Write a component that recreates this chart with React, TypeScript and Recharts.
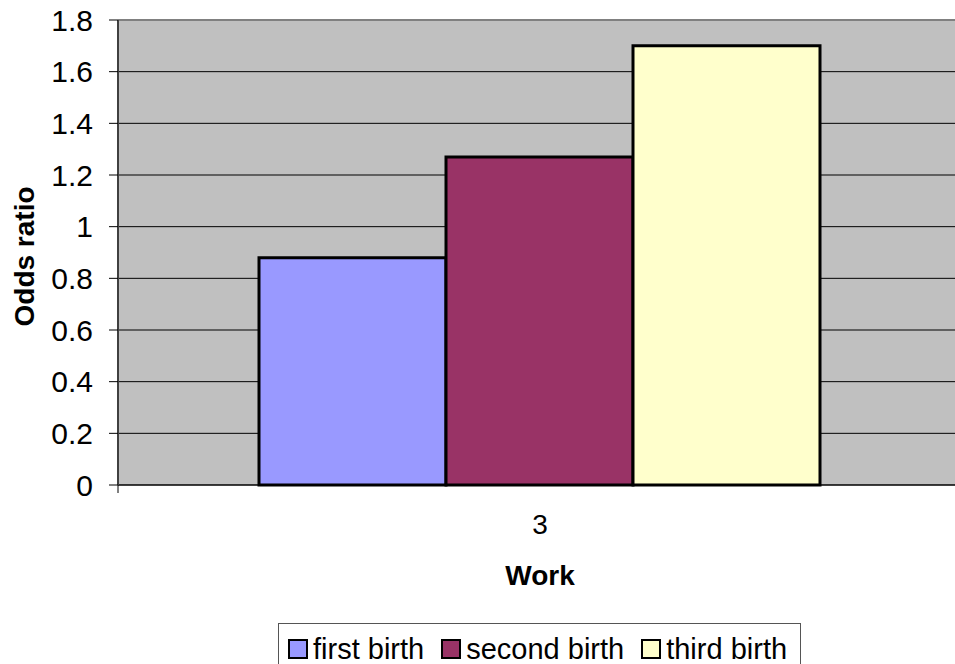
import React from 'react';
import { BarChart, Bar, XAxis, YAxis, CartesianGrid, ReferenceLine } from 'recharts';

const categories = ['3'];
const seriesNames = ['first birth', 'second birth', 'third birth'];
const seriesKeys = ['first', 'second', 'third'];
const seriesColors = ['#9999FF', '#993366', '#FFFFCC'];
const firstBirth = [0.88];
const secondBirth = [1.27];
const thirdBirth = [1.70];
const yTicks = [0, 0.2, 0.4, 0.6, 0.8, 1, 1.2, 1.4, 1.6, 1.8];

const data = categories.map((c, i) => ({
  name: c,
  first: firstBirth[i],
  second: secondBirth[i],
  third: thirdBirth[i],
}));

const FONT = '"Liberation Sans", Arial, sans-serif';

const XTick = (props: any) => {
  const { x, y, payload } = props;
  const off = payload && payload.offset ? payload.offset : 0;
  return (
    <g>
      <line x1={x - off} x2={x - off} y1={y} y2={y + 8} stroke="#000" strokeWidth={1} />
      <text x={x} y={y + 49} textAnchor="middle" fontFamily={FONT} fontSize={28} fill="#000">
        {payload.value}
      </text>
    </g>
  );
};

const YTick = (props: any) => {
  const { x, y, payload } = props;
  return (
    <text x={x} y={y} textAnchor="end" dominantBaseline="central" fontFamily={FONT} fontSize={30} fill="#000">
      {String(payload.value)}
    </text>
  );
};

export default function App() {
  return (
    <div style={{ position: 'absolute', left: 0, top: 0, width: 955, height: 664, overflow: 'hidden', background: '#fff' }}>
      <BarChart
        width={962}
        height={664}
        data={data}
        margin={{ top: 20, right: 0, bottom: 0, left: 0 }}
        barCategoryGap={141}
        barGap={0}
      >
        <CartesianGrid fill="#C0C0C0" vertical={false} stroke="#000" strokeOpacity={1} />
        <XAxis
          dataKey="name"
          height={179}
          tickSize={0}
          tickMargin={0}
          axisLine={{ stroke: '#000', strokeWidth: 1 }}
          tick={<XTick />}
          label={{
            content: (p: any) => {
              const vb = p.viewBox || { x: 118, y: 485, width: 844 };
              return (
                <text x={540} y={vb.y + 100} textAnchor="middle" fontFamily={FONT} fontSize={28} fontWeight="bold" fill="#000">
                  Work
                </text>
              );
            },
          }}
        />
        <YAxis
          width={118}
          domain={[0, 1.8]}
          ticks={yTicks}
          interval={0}
          tickSize={9}
          tickMargin={16}
          axisLine={{ stroke: '#404040', strokeWidth: 2 }}
          tickLine={{ stroke: '#000' }}
          tick={<YTick />}
          label={{
            content: (p: any) => {
              const vb = p.viewBox || { x: 0, y: 20, width: 118, height: 465 };
              const cx = 24;
              const cy = vb.y + vb.height / 2 + 4;
              return (
                <text
                  x={cx}
                  y={cy}
                  transform={`rotate(-90, ${cx}, ${cy})`}
                  textAnchor="middle"
                  dominantBaseline="central"
                  fontFamily={FONT}
                  fontSize={28}
                  fontWeight="bold"
                  fill="#000"
                >
                  Odds ratio
                </text>
              );
            },
          }}
        />
        <ReferenceLine y={1.8} stroke="#808080" strokeWidth={2} ifOverflow="visible" />
        {seriesKeys.map((k, i) => (
          <Bar key={k} dataKey={k} name={seriesNames[i]} fill={seriesColors[i]} stroke="#000" strokeWidth={3} isAnimationActive={false} />
        ))}
      </BarChart>
      <div
        style={{
          position: 'absolute',
          left: 278,
          top: 623,
          width: 523,
          height: 60,
          border: '1px solid #555',
          boxSizing: 'border-box',
          display: 'flex',
          alignItems: 'flex-start',
          paddingLeft: 9,
          paddingTop: 13,
          fontFamily: FONT,
          fontSize: 29,
          lineHeight: '24px',
          color: '#000',
        }}
      >
        {seriesNames.map((n, i) => (
          <div key={n} style={{ display: 'flex', alignItems: 'center', marginRight: 17 }}>
            <div style={{ width: 20, height: 20, boxSizing: 'border-box', border: '2px solid #000', background: seriesColors[i], marginRight: 5 }} />
            <span style={{ whiteSpace: 'nowrap' }}>{n}</span>
          </div>
        ))}
      </div>
    </div>
  );
}
